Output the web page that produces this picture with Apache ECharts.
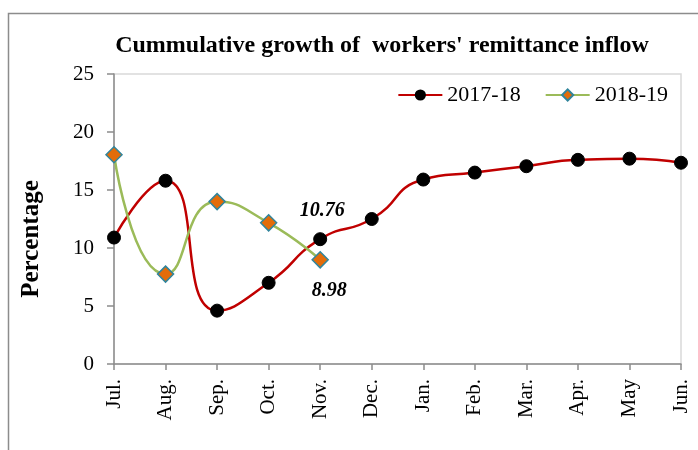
<!DOCTYPE html>
<html>
<head>
<meta charset="utf-8">
<script src="https://cdn.jsdelivr.net/npm/echarts@6/dist/echarts.min.js"></script>
<style>html,body{margin:0;padding:0;background:#fff}#c{width:698px;height:450px}</style>
</head>
<body>
<div id="c"></div>
<script>
var months = ['Jul.','Aug.','Sep.','Oct.','Nov.','Dec.','Jan.','Feb.','Mar.','Apr.','May','Jun.'];
var fy1718 = [10.9, 15.8, 4.6, 7.0, 10.76, 12.5, 15.9, 16.5, 17.05, 17.6, 17.7, 17.35];
var fy1819 = [18.04, 7.75, 14.0, 12.17, 8.98];
var yTicks = [0, 5, 10, 15, 20, 25];

var serif = '"Liberation Serif", "Times New Roman", serif';
var chart = echarts.init(document.getElementById('c'));
chart.setOption({
  animation: false,
  backgroundColor: '#fff',
  title: {
    text: "Cummulative growth of  workers' remittance inflow",
    left: 377, top: 29, textAlign: 'center',
    textStyle: {fontFamily: serif, fontWeight: 'bold', fontSize: 24, color: '#000'}
  },
  legend: {
    right: 25, top: 79,
    itemWidth: 44, itemHeight: 14, itemGap: 24,
    textStyle: {fontFamily: serif, fontSize: 22, color: '#000'},
    data: ['2017-18', '2018-19']
  },
  graphic: [{
    type: 'rect', silent: true,
    shape: {x: 8.5, y: 13.5, width: 800, height: 600},
    style: {fill: 'none', stroke: '#8c8c8c', lineWidth: 1.5}
  }, {
    type: 'text', silent: true,
    x: 32, y: 239, rotation: Math.PI / 2,
    style: {
      text: 'Percentage', fill: '#000',
      font: 'bold 25px ' + serif,
      textAlign: 'center', textVerticalAlign: 'middle'
    }
  }],
  grid: {left: 114, right: 17, top: 74, bottom: 86, show: true, borderColor: '#d9d9d9', borderWidth: 1.5},
  xAxis: {
    type: 'category', data: months, boundaryGap: false,
    axisLine: {lineStyle: {color: '#8c8c8c', width: 1.5}},
    axisTick: {show: true, length: 6, lineStyle: {color: '#8c8c8c', width: 1.5}},
    axisLabel: {rotate: 90, fontFamily: serif, fontSize: 21, color: '#000', margin: 15, interval: 0},
    splitLine: {show: false}
  },
  yAxis: {
    type: 'value', min: yTicks[0], max: yTicks[yTicks.length - 1], interval: 5,
    axisLine: {show: true, lineStyle: {color: '#8c8c8c', width: 1.5}},
    axisTick: {show: true, length: 7, lineStyle: {color: '#8c8c8c', width: 1.5}},
    axisLabel: {fontFamily: serif, fontSize: 21, color: '#000', margin: 20},
    splitLine: {show: false}
  },
  series: [{
    name: '2017-18', type: 'line', data: fy1718, smooth: 0.55,
    lineStyle: {color: '#C00000', width: 2.5},
    itemStyle: {color: '#000', borderColor: '#000'},
    symbol: 'circle', symbolSize: 13,
    label: {
      show: true, fontFamily: serif, fontSize: 20, fontWeight: 'bold', fontStyle: 'italic', color: '#000',
      position: 'top', distance: 11, offset: [2, 0],
      formatter: function (p) { return p.dataIndex === 4 ? String(p.value) : ''; }
    },
    z: 2
  }, {
    name: '2018-19', type: 'line', data: fy1819, smooth: 0.55,
    lineStyle: {color: '#9BBB59', width: 2.5},
    itemStyle: {color: '#E36C09', borderColor: '#31859C', borderWidth: 1.5},
    symbol: 'diamond', symbolSize: 16,
    label: {
      show: true, fontFamily: serif, fontSize: 20, fontWeight: 'bold', fontStyle: 'italic', color: '#000',
      position: 'bottom', distance: 12, offset: [9, 0],
      formatter: function (p) { return p.dataIndex === 4 ? p.value.toFixed(2) : ''; }
    },
    z: 3
  }]
});
</script>
</body>
</html>
